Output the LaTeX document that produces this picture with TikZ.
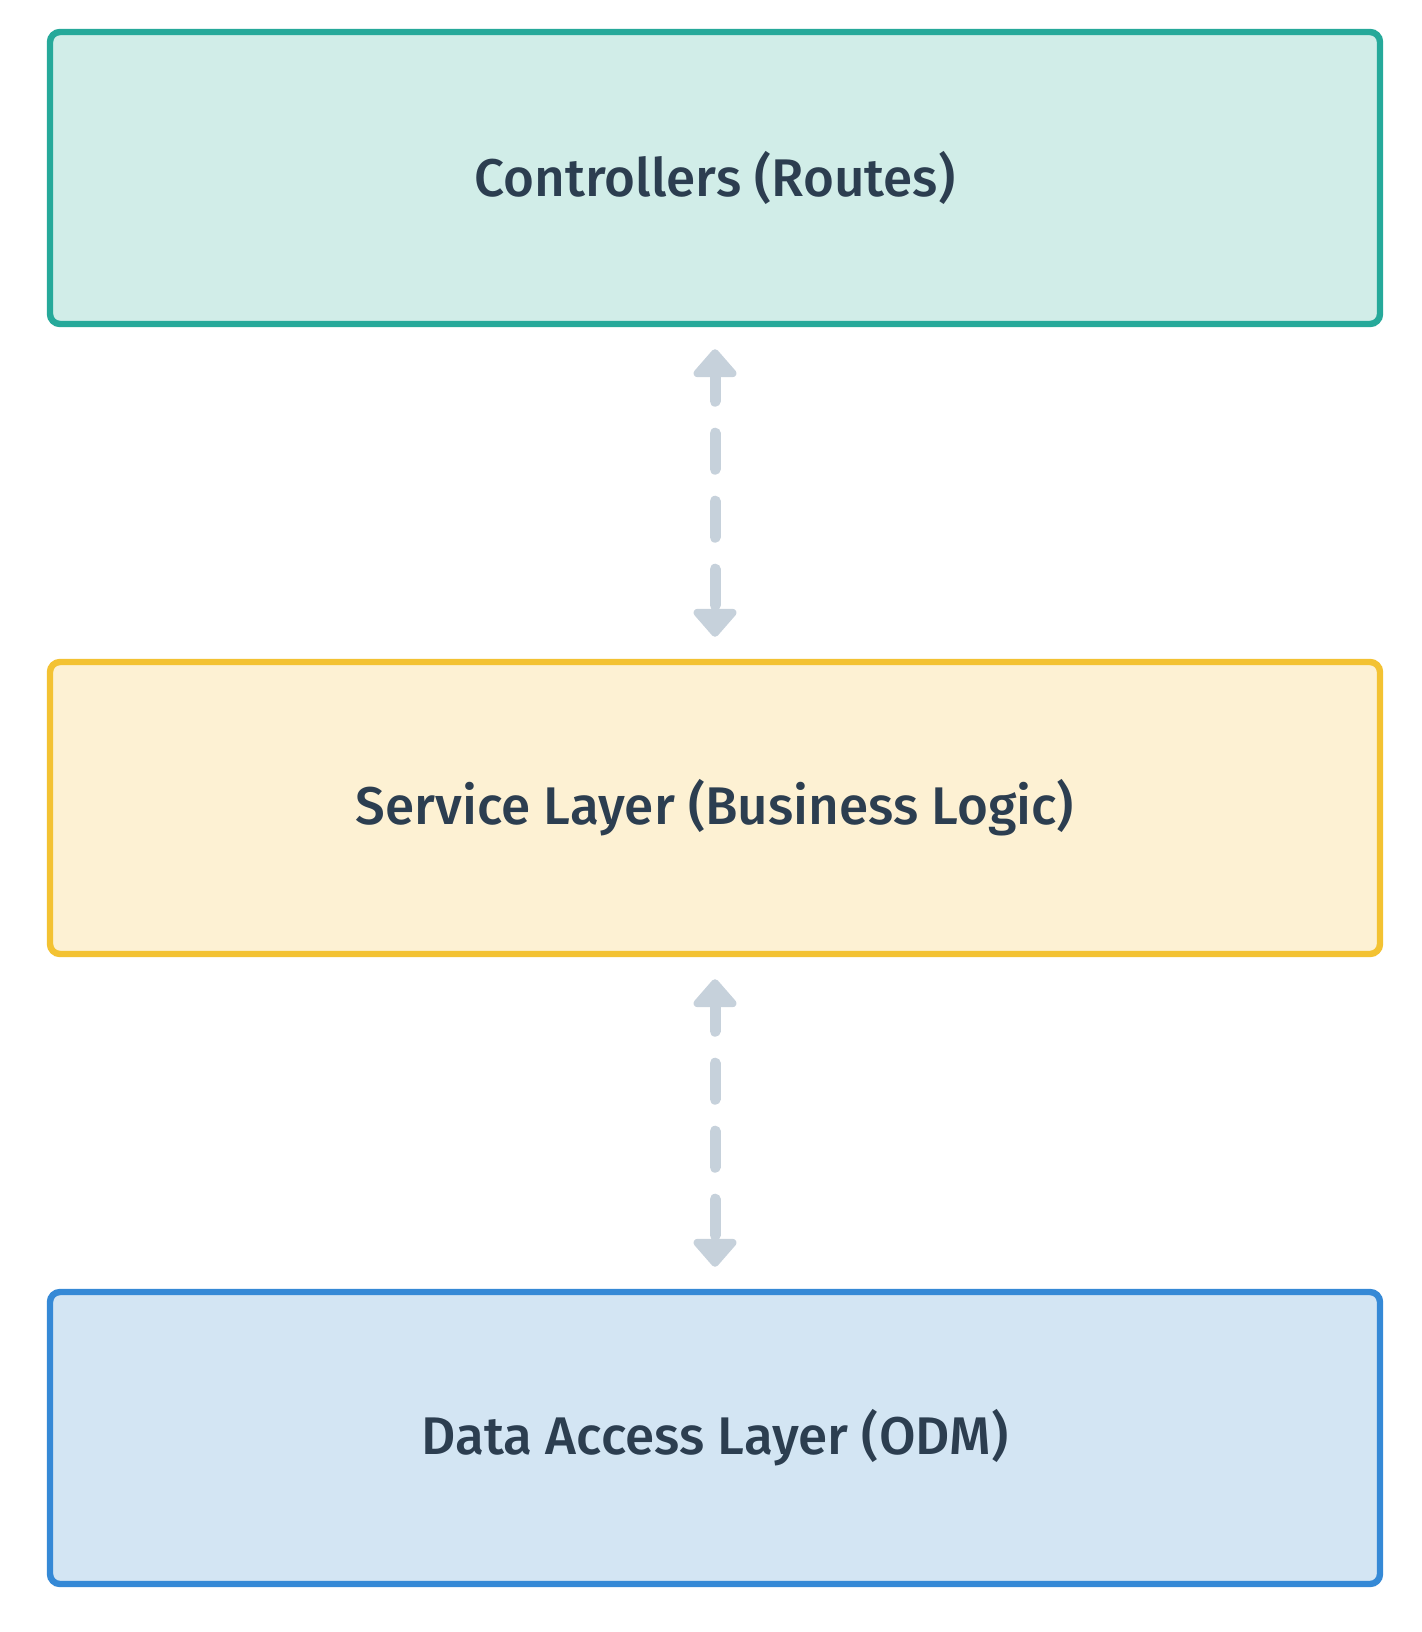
\documentclass[tikz,border=0pt]{standalone}
\usepackage{fontspec}
\setmainfont{Fira Sans}[UprightFont=* Medium]
\usetikzlibrary{arrows.meta}

\definecolor{ctrlfill}{HTML}{D1EDE8}
\definecolor{ctrldraw}{HTML}{26A99A}
\definecolor{svcfill}{HTML}{FDF1D3}
\definecolor{svcdraw}{HTML}{F3C232}
\definecolor{dalfill}{HTML}{D3E5F3}
\definecolor{daldraw}{HTML}{3589D6}
\definecolor{linkgray}{HTML}{C6D1DB}
\definecolor{textdark}{HTML}{2C3E50}

\begin{document}
\begin{tikzpicture}[x=0.5pt,y=-0.5pt,
  layer/.style={draw, line width=3.2pt, rounded corners=5pt, inner sep=0pt,
    minimum width=665pt, minimum height=146pt, text=textdark,
    font=\fontsize{26.5}{32}\selectfont},
  link/.style={draw=linkgray, line width=5.5pt, line cap=round,
    dash pattern=on 18pt off 16pt, dash phase=5pt,
    {Triangle[length=15pt,width=25pt,round]}-{Triangle[length=15pt,width=25pt,round]},
    shorten <=11pt, shorten >=11pt}]
  \useasboundingbox (0,0) rectangle (1422,1632);
  \node[layer, fill=ctrlfill, draw=ctrldraw] (ctrl) at (715,178) {Controllers (Routes)};
  \node[layer, fill=svcfill, draw=svcdraw] (svc) at (715,808) {Service Layer (Business Logic)};
  \node[layer, fill=dalfill, draw=daldraw] (dal) at (715,1438) {Data Access Layer (ODM)};
  \draw[link] (ctrl) -- (svc);
  \draw[link] (svc) -- (dal);
\end{tikzpicture}
\end{document}
